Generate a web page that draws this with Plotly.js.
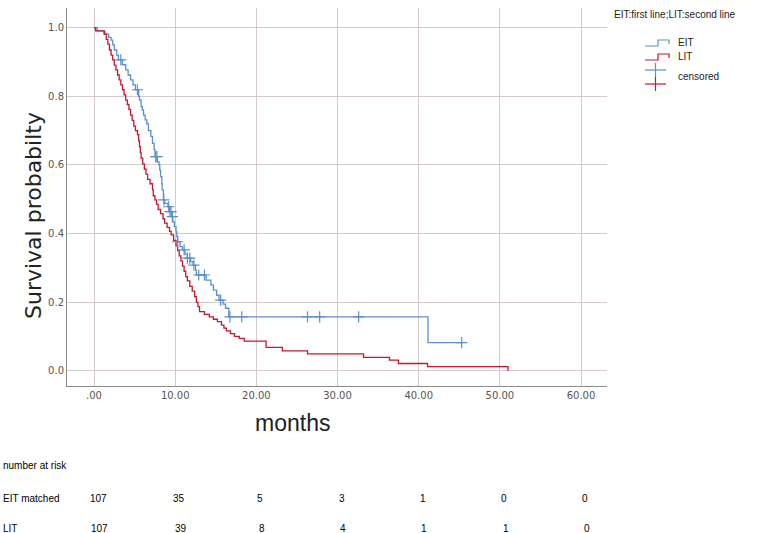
<!DOCTYPE html>
<html>
<head>
<meta charset="utf-8">
<script src="https://cdn.plot.ly/plotly-3.0.1.min.js"></script>
<style>
html,body{margin:0;padding:0;background:#fff;}
#chart{width:767px;height:533px;}
</style>
</head>
<body>
<div id="chart"></div>
<script>
// ---- Data ----
// EIT (first line) Kaplan-Meier step events: time (months) and survival after the event
const eitTimes = [0.4, 1.2, 1.8, 2.1, 2.3, 2.5, 2.8, 3.0, 3.5, 3.9, 4.2, 4.5, 4.8, 5.1, 5.5, 5.6, 5.8, 5.95, 6.1, 6.3, 6.5, 6.7, 7.0, 7.2, 7.4, 7.5, 7.8, 8.0, 8.1, 8.2, 8.35, 8.4, 8.55, 8.7, 9.1, 9.3, 9.6, 9.7, 9.9, 10.1, 10.2, 10.3, 10.6, 10.9, 11.2, 11.5, 11.9, 12.2, 12.5, 12.6, 13.8, 14.4, 14.7, 15.1, 15.4, 15.9, 16.2, 16.6, 41.15];
const eitSurv  = [0.991, 0.981, 0.972, 0.964, 0.95, 0.935, 0.92, 0.906, 0.892, 0.877, 0.862, 0.848, 0.833, 0.819, 0.80, 0.789, 0.77, 0.76, 0.745, 0.731, 0.72, 0.70, 0.683, 0.663, 0.645, 0.624, 0.609, 0.60, 0.585, 0.566, 0.545, 0.527, 0.498, 0.488, 0.478, 0.464, 0.449, 0.434, 0.42, 0.405, 0.39, 0.376, 0.362, 0.352, 0.34, 0.328, 0.318, 0.308, 0.293, 0.279, 0.264, 0.25, 0.235, 0.22, 0.206, 0.194, 0.182, 0.157, 0.0816];
// EIT censored times
const eitCensor = [3.3, 5.35, 7.6, 7.75, 8.6, 9.2, 9.35, 9.5, 9.65, 10.3, 11.1, 11.5, 11.8, 12.3, 12.9, 13.6, 15.6, 16.75, 18.2, 26.3, 27.8, 32.6, 45.3];

// LIT (second line) Kaplan-Meier step events
const litTimes = [0.2, 1.3, 1.5, 1.7, 1.9, 2.1, 2.3, 2.5, 2.7, 2.9, 3.1, 3.3, 3.5, 3.7, 3.9, 4.1, 4.3, 4.5, 4.7, 4.9, 5.1, 5.35, 5.5, 5.6, 5.7, 5.8, 6.0, 6.2, 6.4, 6.6, 6.9, 7.2, 7.3, 7.5, 7.7, 7.9, 8.2, 8.5, 8.7, 9.0, 9.3, 9.5, 9.8, 10.1, 10.3, 10.5, 10.7, 10.9, 11.1, 11.3, 11.5, 11.8, 12.1, 12.4, 12.6, 12.8, 13.0, 13.6, 14.2, 14.7, 15.2, 15.7, 16.0, 16.3, 16.8, 17.3, 17.9, 18.5, 21.2, 23.2, 26.3, 33.2, 36.4, 37.5, 41.1, 51.0];
const litSurv  = [0.991, 0.981, 0.966, 0.952, 0.935, 0.92, 0.906, 0.891, 0.877, 0.862, 0.848, 0.833, 0.819, 0.804, 0.789, 0.776, 0.762, 0.745, 0.73, 0.713, 0.70, 0.688, 0.67, 0.653, 0.636, 0.62, 0.603, 0.588, 0.573, 0.558, 0.545, 0.527, 0.51, 0.498, 0.485, 0.47, 0.458, 0.443, 0.43, 0.418, 0.406, 0.396, 0.38, 0.364, 0.35, 0.335, 0.32, 0.305, 0.29, 0.274, 0.262, 0.246, 0.232, 0.216, 0.2, 0.187, 0.172, 0.164, 0.157, 0.15, 0.143, 0.133, 0.124, 0.116, 0.108, 0.1, 0.094, 0.086, 0.068, 0.058, 0.049, 0.039, 0.031, 0.021, 0.012, 0.0];

// Number at risk table
const riskTimes = [0, 10, 20, 30, 40, 50, 60];
const eitRisk = [107, 35, 5, 3, 1, 0, 0];
const litRisk = [107, 39, 8, 4, 1, 1, 0];
const riskRowLabels = ['EIT matched', 'LIT'];

// Axis ticks
const xTickVals = [0, 10, 20, 30, 40, 50, 60];
const xTickText = ['.00', '10.00', '20.00', '30.00', '40.00', '50.00', '60.00'];
const yTickVals = [0, 0.2, 0.4, 0.6, 0.8, 1.0];

// ---- Helpers ----
function survAt(times, surv, t) {
  let s = 1;
  for (let i = 0; i < times.length; i++) { if (times[i] <= t) s = surv[i]; }
  return s;
}
const BLUE = '#5a8fd0';
const RED = '#c4182f';
const GRID = '#d6caca';

const eitX = [0].concat(eitTimes);
const eitY = [1].concat(eitSurv);
const eitEnd = eitCensor[eitCensor.length - 1];
eitX.push(eitEnd); eitY.push(survAt(eitTimes, eitSurv, eitEnd));
const litX = [0].concat(litTimes);
const litY = [1].concat(litSurv);

const traces = [
  {x: eitX, y: eitY, type: 'scatter', mode: 'lines', line: {shape: 'hv', color: BLUE, width: 1.3}, hoverinfo: 'skip', showlegend: false},
  {x: litX, y: litY, type: 'scatter', mode: 'lines', line: {shape: 'hv', color: RED, width: 1.3}, hoverinfo: 'skip', showlegend: false},
  {x: eitCensor, y: eitCensor.map(t => survAt(eitTimes, eitSurv, t)), type: 'scatter', mode: 'markers',
   marker: {symbol: 'cross-thin-open', size: 8, line: {color: BLUE, width: 1.2}, color: BLUE}, hoverinfo: 'skip', showlegend: false}
];

// plot area in pixels: left 67, right 607, top 8, bottom 386
const L = 67, R = 607, T = 8, B = 386;
const px = v => (v - L) / (R - L);
const py = v => (B - v) / (B - T);

const annotations = [];
const shapes = [];
const sans = 'Liberation Sans, Arial, sans-serif';

// Axis titles (placed as in the reference)
annotations.push({xref: 'paper', yref: 'paper', x: px(292), y: py(423), xanchor: 'center', yanchor: 'middle', showarrow: false,
  text: 'months', font: {family: sans, size: 23, color: '#222'}});
annotations.push({xref: 'paper', yref: 'paper', x: px(33), y: py(216), xanchor: 'center', yanchor: 'middle', showarrow: false,
  textangle: -90, text: 'Survival probabilty', font: {family: 'DejaVu Sans, sans-serif', size: 22, color: '#222'}});

// Legend (drawn manually)
annotations.push({xref: 'paper', yref: 'paper', x: px(612), y: py(15), xanchor: 'left', yanchor: 'middle', showarrow: false,
  text: 'EIT:first line;LIT:second line', font: {family: sans, size: 10, color: '#222'}});
const legItems = [
  {label: 'EIT', color: BLUE, y: 43},
  {label: 'LIT', color: RED, y: 57}
];
legItems.forEach(it => {
  shapes.push({type: 'path', xref: 'paper', yref: 'paper',
    path: `M ${px(645)} ${py(it.y + 3)} L ${px(658)} ${py(it.y + 3)} L ${px(658)} ${py(it.y - 3)} L ${px(669)} ${py(it.y - 3)} L ${px(669)} ${py(it.y + 1)}`,
    line: {color: it.color, width: 1.2}});
  annotations.push({xref: 'paper', yref: 'paper', x: px(676), y: py(it.y - 1), xanchor: 'left', yanchor: 'middle', showarrow: false,
    text: it.label, font: {family: sans, size: 10, color: '#222'}});
});
// censored symbol: blue + above red +
[[70, BLUE], [84, RED]].forEach(([cy, col]) => {
  shapes.push({type: 'line', xref: 'paper', yref: 'paper', x0: px(645), x1: px(666), y0: py(cy), y1: py(cy), line: {color: col, width: 1.2}});
  shapes.push({type: 'line', xref: 'paper', yref: 'paper', x0: px(655.5), x1: px(655.5), y0: py(cy - 7), y1: py(cy + 7), line: {color: col, width: 1.2}});
});
annotations.push({xref: 'paper', yref: 'paper', x: px(676), y: py(76), xanchor: 'left', yanchor: 'middle', showarrow: false,
  text: 'censored', font: {family: sans, size: 10, color: '#222'}});

// Number at risk table
const tabFont = {family: sans, size: 10, color: '#000'};
annotations.push({xref: 'paper', yref: 'paper', x: px(1), y: py(465), xanchor: 'left', yanchor: 'middle', showarrow: false,
  text: 'number at risk', font: tabFont});
[[eitRisk, 498], [litRisk, 528]].forEach(([vals, ry], r) => {
  annotations.push({xref: 'paper', yref: 'paper', x: px(1), y: py(ry), xanchor: 'left', yanchor: 'middle', showarrow: false,
    text: riskRowLabels[r], font: tabFont});
  vals.forEach((v, i) => {
    annotations.push({xref: 'x', yref: 'paper', x: riskTimes[i] + 0.5 + 0.2 * r, y: py(ry), xanchor: 'center', yanchor: 'middle', showarrow: false,
      text: String(v), font: tabFont});
  });
});

const layout = {
  width: 767, height: 533,
  margin: {l: L, r: 767 - R, t: T, b: 533 - B, pad: 0},
  paper_bgcolor: '#fff', plot_bgcolor: '#fff',
  xaxis: {
    range: [-3.33, 63.2], tickvals: xTickVals, ticktext: xTickText,
    showgrid: true, gridcolor: GRID, gridwidth: 1, zeroline: false,
    showline: true, linecolor: '#8a8a8a', linewidth: 1, ticks: '',
    tickfont: {family: 'DejaVu Sans, sans-serif', size: 10, color: '#555'},
    automargin: false, fixedrange: true
  },
  yaxis: {
    range: [-0.0446, 1.0574], tickvals: yTickVals, tickformat: '.1f',
    showgrid: true, gridcolor: GRID, gridwidth: 1, zeroline: false,
    showline: true, linecolor: '#8a8a8a', linewidth: 1, ticks: '',
    tickfont: {family: 'DejaVu Sans, sans-serif', size: 10, color: '#555'},
    automargin: false, fixedrange: true
  },
  showlegend: false,
  annotations: annotations,
  shapes: shapes
};

Plotly.newPlot('chart', traces, layout, {displayModeBar: false, staticPlot: true});
</script>
</body>
</html>
